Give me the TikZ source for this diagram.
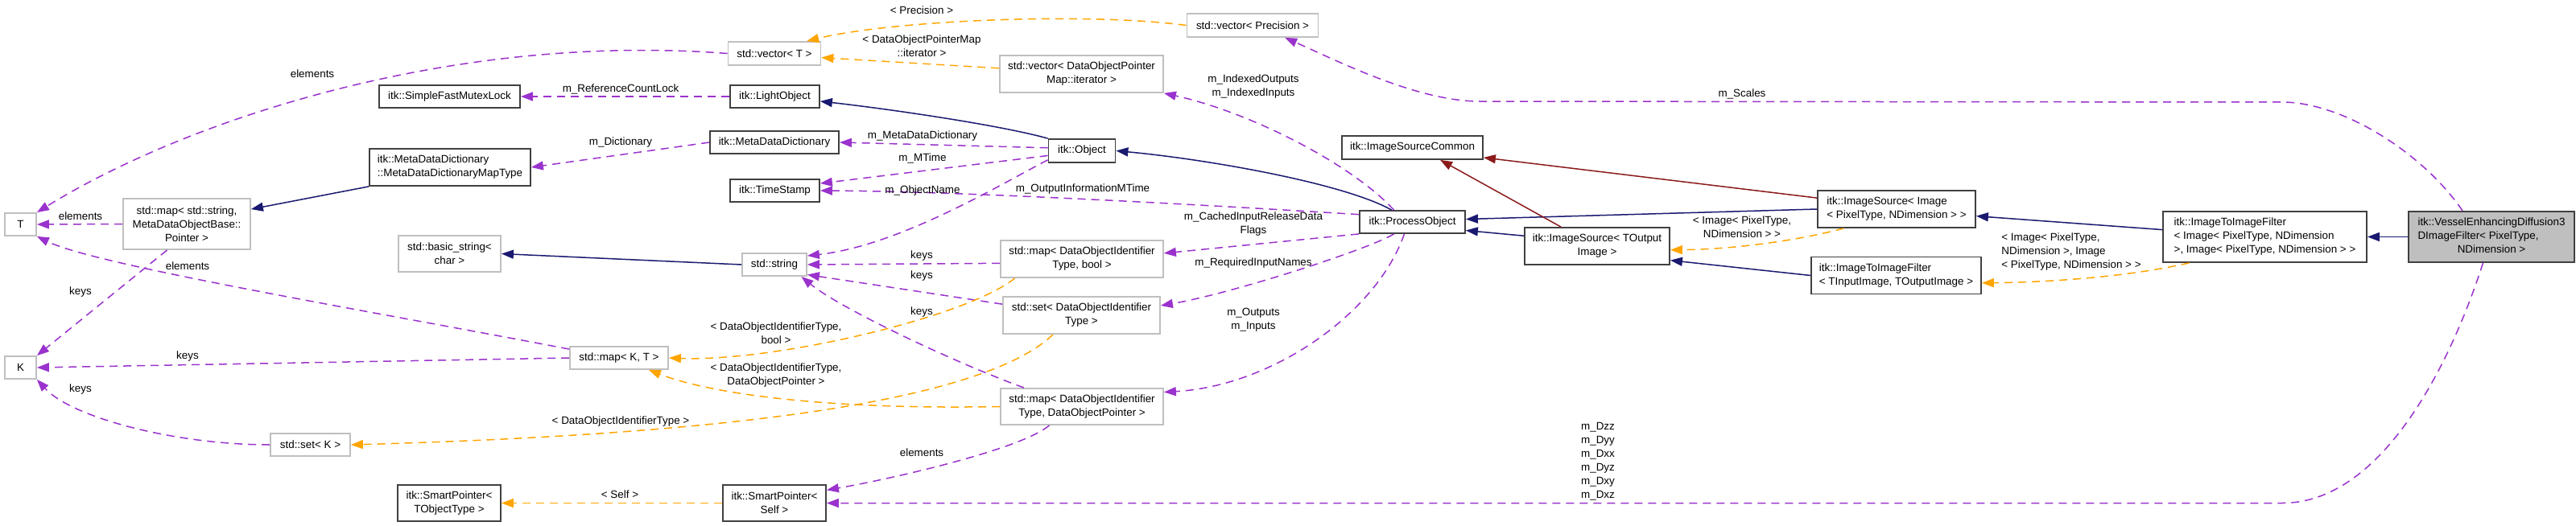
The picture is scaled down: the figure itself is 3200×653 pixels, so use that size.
\documentclass[tikz,border=0pt]{standalone}
\usepackage{fontspec}
\setmainfont{Liberation Sans}
\usepackage{xcolor}
\usetikzlibrary{arrows.meta}
\definecolor{usecol}{HTML}{9A32CD}
\definecolor{tplcol}{HTML}{FFA500}
\definecolor{inhcol}{HTML}{191970}
\definecolor{protcol}{HTML}{8B1A1A}
\definecolor{lightedge}{HTML}{BFBFBF}
\definecolor{darkedge}{HTML}{404040}

\begin{document}
\begin{tikzpicture}[
    x=0.5pt, y=-0.5pt,
    font=\fontsize{6.7}{8.5}\selectfont,
    box/.style={draw=darkedge, line width=0.9pt, fill=white, align=center, inner sep=2pt, minimum height=14pt},
    extbox/.style={box, draw=lightedge},
    mainbox/.style={draw=darkedge, line width=0.9pt, fill=lightedge, inner sep=2pt},
    lbl/.style={inner sep=0pt, align=center},
    link/.style={line width=0.75pt, -{Triangle[length=7.5pt, width=5.5pt]}},
    member/.style={link, draw=usecol, dash pattern=on 5pt off 3.5pt},
    tmpl/.style={link, draw=tplcol, dash pattern=on 5pt off 3.5pt},
    inherit/.style={link, draw=inhcol},
    protinh/.style={link, draw=protcol}
  ]
    \path[fill=white] (0,0) rectangle (3200,653);

    % classes
    \node[extbox, minimum width=19.5pt] (T) at (25.5,279) {T};
    \node[extbox, minimum width=19.5pt] (K) at (25.5,457) {K};
    \node[extbox, minimum width=79pt, minimum height=31.5pt] (mapStr) at (232,278.5) {std::map< std::string,\\MetaDataObjectBase::\\Pointer >};
    \node[box, minimum width=87.5pt] (mutex) at (558.5,120) {itk::SimpleFastMutexLock};
    \node[box, align=left, minimum width=100pt, minimum height=23pt] (mapType) at (559,208) {itk::MetaDataDictionary\\::MetaDataDictionaryMapType};
    \node[extbox, minimum width=63.5pt, minimum height=22.5pt] (basicStr) at (558.5,315.5) {std::basic\_string<\\char >};
    \node[extbox, minimum width=49.5pt] (setK) at (385.5,553) {std::set< K >};
    \node[box, minimum width=64pt, minimum height=22.5pt] (spObj) at (558,625.5) {itk::SmartPointer<\\TObjectType >};
    \node[extbox, minimum width=61pt] (mapKT) at (769,445) {std::map< K, T >};
    \node[extbox, minimum width=57.5pt, minimum height=14.5pt] (vecT) at (962,66.5) {std::vector< T >};
    \node[box, minimum width=55.5pt] (light) at (962.5,120) {itk::LightObject};
    \node[box, minimum width=80pt] (mdd) at (962,177) {itk::MetaDataDictionary};
    \node[box, minimum width=55.5pt] (stamp) at (962.5,237) {itk::TimeStamp};
    \node[extbox, minimum width=40pt] (str) at (962,329) {std::string};
    \node[box, minimum width=64pt, minimum height=22.5pt] (spSelf) at (962,625.5) {itk::SmartPointer<\\Self >};
    \node[box, minimum width=41.5pt, minimum height=14.5pt] (object) at (1344,187.5) {itk::Object};
    \node[extbox, minimum width=101.5pt, minimum height=23pt] (vecIter) at (1343.5,92) {std::vector< DataObjectPointer\\Map::iterator >};
    \node[extbox, minimum width=101pt, minimum height=23pt] (mapBool) at (1344,322) {std::map< DataObjectIdentifier\\Type, bool >};
    \node[extbox, minimum width=97.5pt, minimum height=23pt] (setId) at (1343.5,392) {std::set< DataObjectIdentifier\\Type >};
    \node[extbox, minimum width=101pt, minimum height=22.5pt] (mapPtr) at (1344,505.5) {std::map< DataObjectIdentifier\\Type, DataObjectPointer >};
    \node[extbox, minimum width=81.5pt, minimum height=14.5pt] (vecPrec) at (1556,31.5) {std::vector< Precision >};
    \node[box, minimum width=87.5pt, minimum height=14.5pt] (common) at (1754.5,183.5) {itk::ImageSourceCommon};
    \node[box, minimum width=65.5pt] (process) at (1754.5,276) {itk::ProcessObject};
    \node[box, minimum width=90pt, minimum height=23pt] (srcOut) at (1984,306) {itk::ImageSource< TOutput\\Image >};
    \node[box, align=left, minimum width=98pt, minimum height=23pt] (srcImg) at (2356,260) {itk::ImageSource< Image\\< PixelType, NDimension > >};
    \node[box, align=left, minimum width=105.5pt, minimum height=23pt] (filtIO) at (2355.5,342.5) {itk::ImageToImageFilter\\< TInputImage, TOutputImage >};
    \node[box, align=left, minimum width=126.5pt, minimum height=31.5pt] (filtImg) at (2813.5,294.5) {itk::ImageToImageFilter\\< Image< PixelType, NDimension\\ >, Image< PixelType, NDimension > >};
    \node[mainbox, minimum width=103pt, minimum height=31.5pt] (vessel) at (3095,294.5) {\begin{tabular}{@{}l@{}}itk::VesselEnhancingDiffusion3\\DImageFilter< PixelType,\\\multicolumn{1}{@{}c@{}}{NDimension >}\end{tabular}};

    % members
    \draw[member] (vecT.west) .. controls (560,40) and (230,150) .. (T.north east);
    \draw[member] (mapStr.west) -- (T.east);
    \draw[member] (mapKT.170) .. controls (450,385) and (120,330) .. (T.south east);
    \draw[member] (mapStr.233) -- (K.north east);
    \draw[member] (mapKT.west) -- (K.east);
    \draw[member] (setK.west) .. controls (220,553) and (90,520) .. (K.south east);
    \draw[member] (light.west) -- (mutex.east);
    \draw[member] (mdd.west) -- (mapType.east);
    \draw[member] (object.175) -- (mdd.east);
    \draw[member] (object.188) -- (stamp.9);
    \draw[member] (process.172) .. controls (1500,255) and (1200,238) .. (stamp.east);
    \draw[member] (object.195) .. controls (1250,225) and (1120,305) .. (str.15);
    \draw[member] (mapBool.183) -- (str.east);
    \draw[member] (setId.172) -- (str.343);
    \draw[member] (mapPtr.162) .. controls (1184,450) and (1043,383) .. (str.336);
    \draw[member] (process.147) .. controls (1680,205) and (1555,140) .. (vecIter.south east);
    \draw[member] (process.south west) -- (mapBool.4);
    \draw[member] (process.213) .. controls (1700,310) and (1530,365) .. (setId.7);
    \draw[member] (process.236) .. controls (1710,390) and (1580,480) .. (mapPtr.10);
    \draw[member] (mapPtr.210) .. controls (1270,558) and (1110,595) .. (spSelf.14);
    \draw[member] (vessel.138) .. controls (3010,190) and (2910,127) .. (2835,127) -- (1838,126) .. controls (1760,126) and (1660,75) .. (vecPrec.339);
    \draw[member] (vessel.252) .. controls (3045,450) and (2960,625.5) .. (2835,625.5) -- (spSelf.east);

    % template arguments
    \draw[tmpl] (vecPrec.west) .. controls (1350,15) and (1110,25) .. (vecT.21);
    \draw[tmpl] (vecIter.176) -- (vecT.355);
    \draw[tmpl] (mapBool.196) .. controls (1200,395) and (960,450) .. (mapKT.east);
    \draw[tmpl] (mapPtr.west) .. controls (1000,510) and (870,485) .. (mapKT.338);
    \draw[tmpl] (setId.214) .. controls (1220,500) and (900,540) .. (setK.east);
    \draw[tmpl] (spSelf.west) -- (spObj.east);
    \draw[tmpl] (srcImg.200) .. controls (2230,300) and (2150,310) .. (srcOut.357);
    \draw[tmpl] (filtImg.199) .. controls (2640,345) and (2540,351) .. (filtIO.355);

    % inheritance
    \draw[inherit] (object.north west) .. controls (1240,155) and (1100,135) .. (light.354);
    \draw[inherit] (process.150) .. controls (1670,228) and (1500,198) .. (object.east);
    \draw[inherit] (mapType.south west) -- (mapStr.13);
    \draw[inherit] (str.west) -- (basicStr.east);
    \draw[inherit] (srcOut.172) -- (process.351);
    \draw[inherit] (srcImg.west) -- (process.3);
    \draw[inherit] (filtIO.west) -- (srcOut.349);
    \draw[inherit] (filtImg.176) -- (srcImg.355);
    \draw[inherit] (vessel.west) -- (filtImg.east);
    \draw[protinh] (srcImg.172) -- (common.352);
    \draw[protinh] (srcOut.152) -- (common.336);

    % edge labels
    \node[lbl] (lElemVec) at (388,92) {elements};
    \node[lbl] (lElemStr) at (100,269) {elements};
    \node[lbl] (lElemMap) at (233,331) {elements};
    \node[lbl] (lKeysStr) at (100,363) {keys};
    \node[lbl] (lKeysMap) at (233,443) {keys};
    \node[lbl] (lKeysSet) at (100,484) {keys};
    \node[lbl] (lLock) at (771,111) {m\_ReferenceCountLock};
    \node[lbl] (lDict) at (771,177) {m\_Dictionary};
    \node[lbl] (lMetaDict) at (1146,169) {m\_MetaDataDictionary};
    \node[lbl] (lMTime) at (1146,197) {m\_MTime};
    \node[lbl] (lName) at (1146,237) {m\_ObjectName};
    \node[lbl] (lOutTime) at (1345,235) {m\_OutputInformationMTime};
    \node[lbl] (lKeysBool) at (1145,318) {keys};
    \node[lbl] (lKeysId) at (1145,343) {keys};
    \node[lbl] (lKeysPtr) at (1145,388) {keys};
    \node[lbl] (lIndexed) at (1557,108) {m\_IndexedOutputs\\m\_IndexedInputs};
    \node[lbl] (lCached) at (1557,279) {m\_CachedInputReleaseData\\Flags};
    \node[lbl] (lRequired) at (1557,327) {m\_RequiredInputNames};
    \node[lbl] (lInOut) at (1557,398) {m\_Outputs\\m\_Inputs};
    \node[lbl] (lElemPtr) at (1145,563) {elements};
    \node[lbl] (lScales) at (2164,117) {m\_Scales};
    \node[lbl] (lDiff) at (1985,574) {m\_Dzz\\m\_Dyy\\m\_Dxx\\m\_Dyz\\m\_Dxy\\m\_Dxz};
    \node[lbl] (lPrec) at (1145,13) {< Precision >};
    \node[lbl] (lIter) at (1145,57) {< DataObjectPointerMap\\::iterator >};
    \node[lbl] (lIdBool) at (964,414) {< DataObjectIdentifierType,\\bool >};
    \node[lbl] (lIdPtr) at (964,467) {< DataObjectIdentifierType,\\DataObjectPointer >};
    \node[lbl] (lIdSet) at (771,524) {< DataObjectIdentifierType >};
    \node[lbl] (lSelf) at (770,615) {< Self >};
    \node[lbl] (lSrcImg) at (2164,282) {< Image< PixelType,\\NDimension > >};
    \node[lbl, align=left] (lFiltImg) at (2573,313) {< Image< PixelType,\\NDimension >, Image\\< PixelType, NDimension > >};
\end{tikzpicture}
\end{document}
